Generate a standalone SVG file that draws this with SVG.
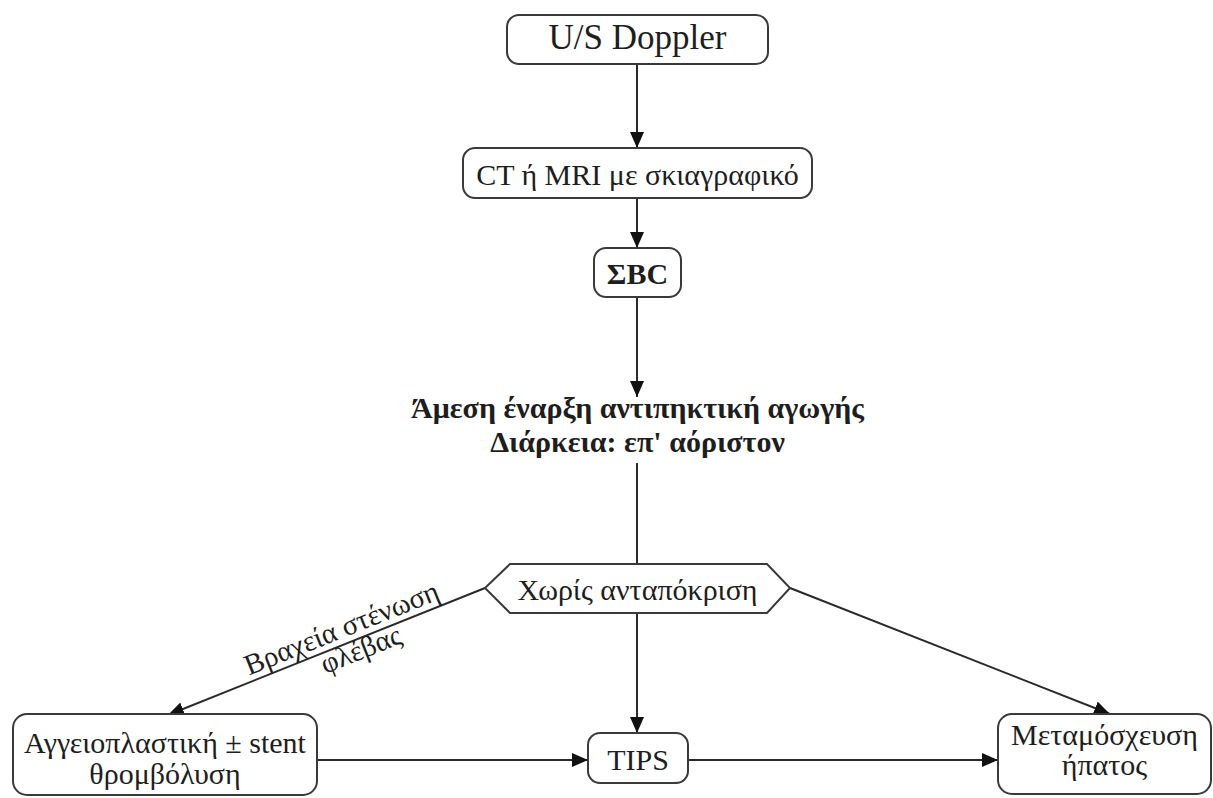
<svg xmlns="http://www.w3.org/2000/svg" width="1213" height="798" viewBox="0 0 1213 798">
  <style>
    .box { fill: #ffffff; stroke: #3a3a3a; stroke-width: 2; }
    .edge { fill: none; stroke: #2a2a2a; stroke-width: 2; }
    .t { font-family: 'Liberation Serif', 'DejaVu Serif', serif; font-size: 30px; fill: #1e1e1e; text-anchor: middle; }
    .b { font-weight: bold; }
    .lbl { font-size: 29px; }
    .big { font-size: 35px; }
  </style>
  <defs>
    <marker id="arrow" markerUnits="userSpaceOnUse" markerWidth="16" markerHeight="14" refX="16" refY="7" orient="auto">
      <path d="M0,0 L16,7 L0,14 z" fill="#111111"/>
    </marker>
  </defs>
  <rect width="1213" height="798" fill="#ffffff"/>

  <!-- connectors -->
  <g id="connectors">
    <line class="edge" x1="637" y1="64" x2="637" y2="148" marker-end="url(#arrow)"/>
    <line class="edge" x1="637" y1="198" x2="637" y2="248" marker-end="url(#arrow)"/>
    <line class="edge" x1="637" y1="297" x2="637" y2="397" marker-end="url(#arrow)"/>
    <line class="edge" x1="637" y1="463" x2="637" y2="564"/>
    <line class="edge" x1="485" y1="588" x2="168" y2="715" marker-end="url(#arrow)"/>
    <line class="edge" x1="637" y1="613" x2="637" y2="733" marker-end="url(#arrow)"/>
    <line class="edge" x1="790" y1="588" x2="1110" y2="714" marker-end="url(#arrow)"/>
    <line class="edge" x1="317" y1="760" x2="588" y2="760" marker-end="url(#arrow)"/>
    <line class="edge" x1="688" y1="760" x2="998" y2="760" marker-end="url(#arrow)"/>
    <g id="edge-label" transform="translate(345,637) rotate(-21.8)">
      <text class="t lbl" x="0" y="0">Βραχεία στένωση</text>
      <text class="t lbl" x="10" y="27">φλέβας</text>
    </g>
  </g>

  <g id="us-doppler">
    <rect class="box" x="507" y="15" width="261" height="49" rx="12"/>
    <text class="t big" x="637.5" y="49">U/S Doppler</text>
  </g>

  <g id="ct-mri">
    <rect class="box" x="463" y="148" width="349" height="50" rx="12"/>
    <text class="t" x="637.5" y="185">CT ή MRI με σκιαγραφικό</text>
  </g>

  <g id="sbc">
    <rect class="box" x="594" y="248" width="87" height="49" rx="12"/>
    <text class="t b" x="637.5" y="284">ΣBC</text>
  </g>

  <g id="anticoagulation">
    <text class="t b" x="637.5" y="418">Άμεση έναρξη αντιπηκτική αγωγής</text>
    <text class="t b" x="637.5" y="452">Διάρκεια: επ' αόριστον</text>
  </g>

  <g id="no-response">
    <polygon class="box" points="485,588 510,564 767,564 790,588 767,613 510,613"/>
    <text class="t" x="637.5" y="600">Χωρίς ανταπόκριση</text>
  </g>

  <g id="angioplasty">
    <rect class="box" x="13" y="714" width="304" height="81" rx="14"/>
    <text class="t" x="165" y="753">Αγγειοπλαστική ± stent</text>
    <text class="t" x="165" y="784">θρομβόλυση</text>
  </g>

  <g id="tips">
    <rect class="box" x="588" y="733" width="100" height="50" rx="12"/>
    <text class="t" x="638" y="770">TIPS</text>
  </g>

  <g id="transplant">
    <rect class="box" x="998" y="714" width="213" height="80" rx="14"/>
    <text class="t" x="1104.5" y="745">Μεταμόσχευση</text>
    <text class="t" x="1104.5" y="775">ήπατος</text>
  </g>
</svg>
